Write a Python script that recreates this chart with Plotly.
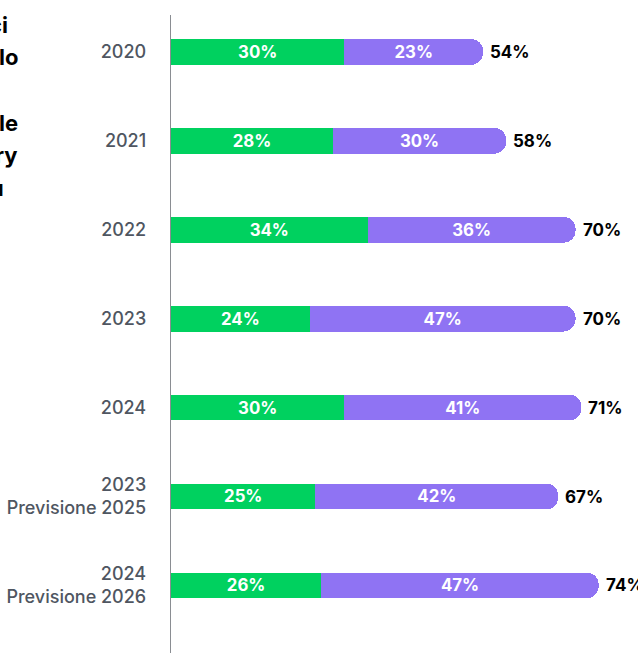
import plotly.graph_objects as go

categories = ["2020", "2021", "2022", "2023", "2024",
              "2023<br>Previsione 2025", "2024<br>Previsione 2026"]
green_vals = [30, 28, 34, 24, 30, 25, 26]
purple_vals = [23, 30, 36, 47, 41, 42, 47]
total_vals = [54, 58, 70, 70, 71, 67, 74]
title_fragments = ["ci", "lo", "le", "ry", "u"]

GREEN = "#00D15F"
PURPLE = "#8F73F3"
FONT = "Inter"

W, H = 638, 653
ML, MT = 171, 15
PW, PH = W - ML, H - MT

purple_len = [t - g for t, g in zip(total_vals, green_vals)]

fig = go.Figure()
fig.add_trace(go.Bar(
    y=categories, x=green_vals, orientation="h",
    marker=dict(color=GREEN, line=dict(width=0)),
    text=[f"{v}%" for v in green_vals], textposition="inside",
    insidetextanchor="middle", textangle=0,
    textfont=dict(family=FONT, size=17, color="white", weight=700),
    hoverinfo="skip", showlegend=False,
))
fig.add_trace(go.Bar(
    y=categories, x=purple_len, orientation="h",
    marker=dict(color=PURPLE, line=dict(width=0)),
    text=[f"{v}%" for v in purple_vals], textposition="inside",
    insidetextanchor="middle", textangle=0,
    textfont=dict(family=FONT, size=17, color="white", weight=700),
    hoverinfo="skip", showlegend=False,
))

for i, tot in enumerate(total_vals):
    fig.add_annotation(
        x=tot, y=i, xref="x", yref="y", text=f"{tot}%",
        showarrow=False, xanchor="left", yanchor="middle", xshift=5,
        font=dict(family=FONT, size=17, color="#000000", weight=700),
    )

# clipped title lines on the left edge (pixel anchors: right edge, vertical centre)
frag_right = [9.5, 20, 20, 20, 6]
frag_mid = [25, 57.5, 122.5, 155, 187.5]
for frag, xr, ym in zip(title_fragments, frag_right, frag_mid):
    fig.add_annotation(
        x=(xr - ML) / PW, y=1 - (ym - MT) / PH, xref="paper", yref="paper",
        text=frag, showarrow=False, xanchor="right", yanchor="middle",
        font=dict(family=FONT, size=22, color="#000000", weight=700),
    )

fig.update_layout(
    width=W, height=H,
    margin=dict(l=ML, r=0, t=MT, b=0, autoexpand=False),
    paper_bgcolor="white", plot_bgcolor="white",
    barmode="stack", bargap=0.71, barcornerradius=13,
    hovermode=False,
    xaxis=dict(range=[0, 80.8], visible=False, fixedrange=True,
               automargin=False),
    yaxis=dict(
        type="category", range=[6.76, -0.415], showgrid=False,
        showline=True, linecolor="#8a8d92", linewidth=1.2,
        ticks="", ticklabelstandoff=20, automargin=False, fixedrange=True,
        tickfont=dict(family=FONT, size=18, color="#4f5661", weight=500),
        zeroline=False,
    ),
)

fig.write_html(
    "out.html",
    config={"displayModeBar": False, "staticPlot": True},
    post_script="document.body.style.margin='0px';document.body.style.padding='0px';",
)
